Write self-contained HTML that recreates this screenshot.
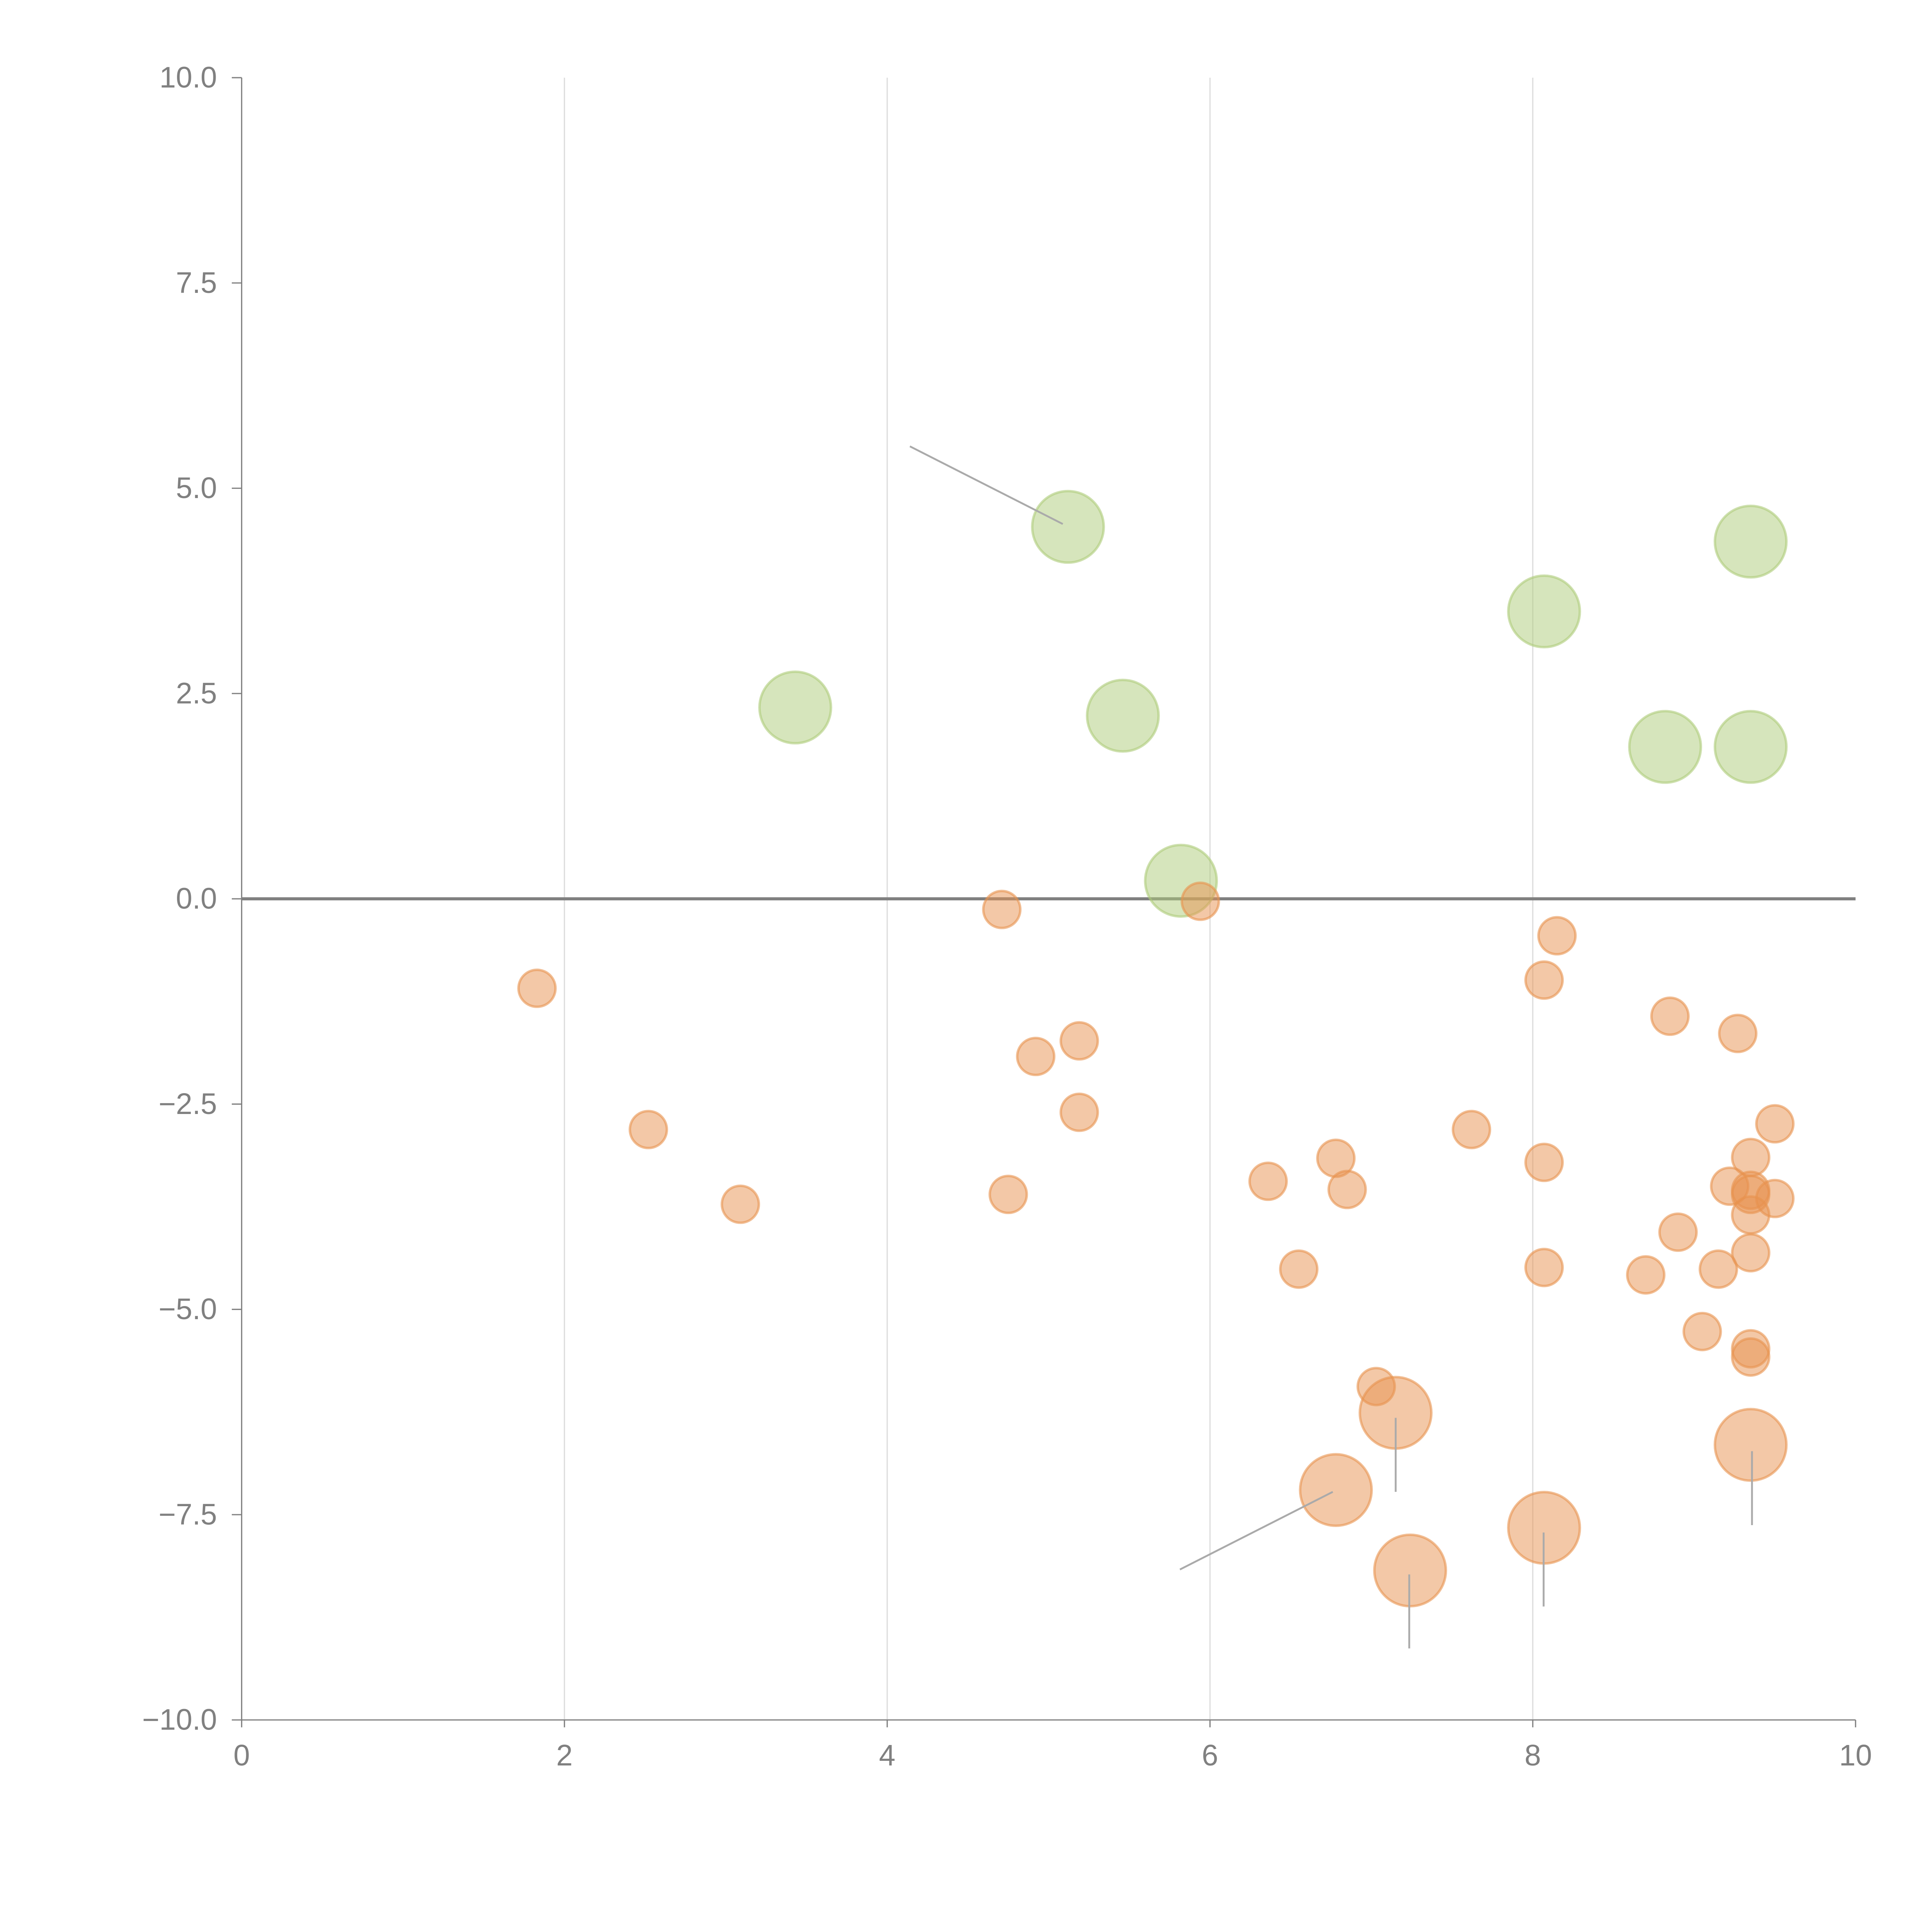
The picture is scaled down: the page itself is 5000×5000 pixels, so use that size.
<!DOCTYPE html>
<html><head><meta charset="utf-8"><style>
html,body{margin:0;padding:0;background:#fff;}
svg{display:block;}
text{font-family:"Liberation Sans",sans-serif;fill:#808080;font-size:24px;}
</style></head><body>
<svg id="chart" width="5000" height="5000" viewBox="0 0 1567 1567" xmlns="http://www.w3.org/2000/svg">
<g id="grid"></g>
<g id="axes"></g>
<g id="marks"></g>
<g id="leaders"></g>
</svg>
<script>
const xTicks=[0,2,4,6,8,10];
const yTicks=[10,7.5,5,2.5,0,-2.5,-5,-7.5,-10];
const greenX=[5.12,3.43,5.46,5.82,8.07,9.35,8.82,9.35];
const greenY=[4.53,2.33,2.23,0.22,3.5,4.35,1.85,1.85];
const orangeX=[4.71,5.94,1.83,2.52,3.09,4.92,5.19,5.19,4.75,6.36,6.55,6.78,6.85,7.62,8.07,8.07,8.15,8.07,8.85,9.27,9.5,9.35,9.22,9.35,9.35,9.5,9.35,8.9,9.35,9.15,8.7,9.05,9.35,9.35,7.03];
const orangeY=[-0.13,-0.03,-1.09,-2.81,-3.72,-1.92,-1.73,-2.6,-3.6,-3.44,-4.51,-3.16,-3.54,-2.81,-3.21,-4.49,-0.45,-0.99,-1.43,-1.64,-2.74,-3.15,-3.5,-3.55,-3.6,-3.65,-3.85,-4.06,-4.31,-4.51,-4.58,-5.27,-5.48,-5.58,-5.94];
const bigOrangeX=[7.15,6.78,8.07,7.24,9.35];
const bigOrangeY=[-6.26,-7.2,-7.66,-8.18,-6.65];
const NS="http://www.w3.org/2000/svg";
const X0=196,X1=1505,Y0=63,Y1=1395;
const sx=v=>X0+(v-0)/(10-0)*(X1-X0);
const sy=v=>Y1-(v+10)/20*(Y1-Y0);
function mk(tag,attrs,parent){const e=document.createElementNS(NS,tag);for(const k in attrs)e.setAttribute(k,attrs[k]);parent.appendChild(e);return e;}
const grid=document.getElementById('grid'),axes=document.getElementById('axes'),marks=document.getElementById('marks'),leaders=document.getElementById('leaders');
xTicks.forEach(t=>{
  if(t>0&&t<10){const l=mk('line',{x1:sx(t),x2:sx(t),y1:Y0,y2:Y1,stroke:'#ddd','stroke-width':1},grid);
  
  }
  const tk=mk('line',{x1:sx(t),x2:sx(t),y1:Y1,y2:Y1+6,stroke:'#808080','stroke-width':1},axes);
  
  
  const tx=mk('text',{x:sx(t),y:Y1+37,'text-anchor':'middle'},axes);tx.textContent=t;
  
  
});
yTicks.forEach(t=>{
  const tk=mk('line',{x1:X0-8,x2:X0,y1:sy(t),y2:sy(t),stroke:'#808080','stroke-width':1},axes);
  
  
  const tx=mk('text',{x:X0-20,y:sy(t)+8,'text-anchor':'end'},axes);tx.textContent=t.toFixed(1).replace('-','\u2212');
  
  
});
const ya=mk('line',{x1:X0,x2:X0,y1:Y0,y2:Y1,stroke:'#808080','stroke-width':1},axes);


const xa=mk('line',{x1:X0,x2:X1,y1:Y1,y2:Y1,stroke:'#808080','stroke-width':1},axes);


const zl=mk('line',{x1:X0,x2:X1,y1:sy(0),y2:sy(0),stroke:'#808080','stroke-width':2.5},axes);


[[738,362,862,425],[957,1273,1081,1210],[1132,1150,1132,1210],[1143,1277,1143,1337],[1252,1243,1252,1303],[1421,1177,1421,1237]].forEach(a=>{
  const l=mk('line',{x1:a[0],y1:a[1],x2:a[2],y2:a[3],stroke:'#aaa','stroke-width':1.5},leaders);
  
  
});
function bubbles(xs,ys,r,fill,stroke,name){
  xs.forEach((x,i)=>{
    const c=mk('circle',{cx:sx(x),cy:sy(ys[i]),r:r,fill:fill,'fill-opacity':0.5,stroke:stroke,'stroke-opacity':0.6,'stroke-width':2},marks);
    
    
  });
}
bubbles(greenX,greenY,29,'#aecb7a','#aecb7a','green-bubble');
bubbles(orangeX,orangeY,15,'#e8924f','#e8924f','orange-bubble');
bubbles(bigOrangeX,bigOrangeY,29,'#e8924f','#e8924f','large-orange-bubble');
</script>
</body></html>
